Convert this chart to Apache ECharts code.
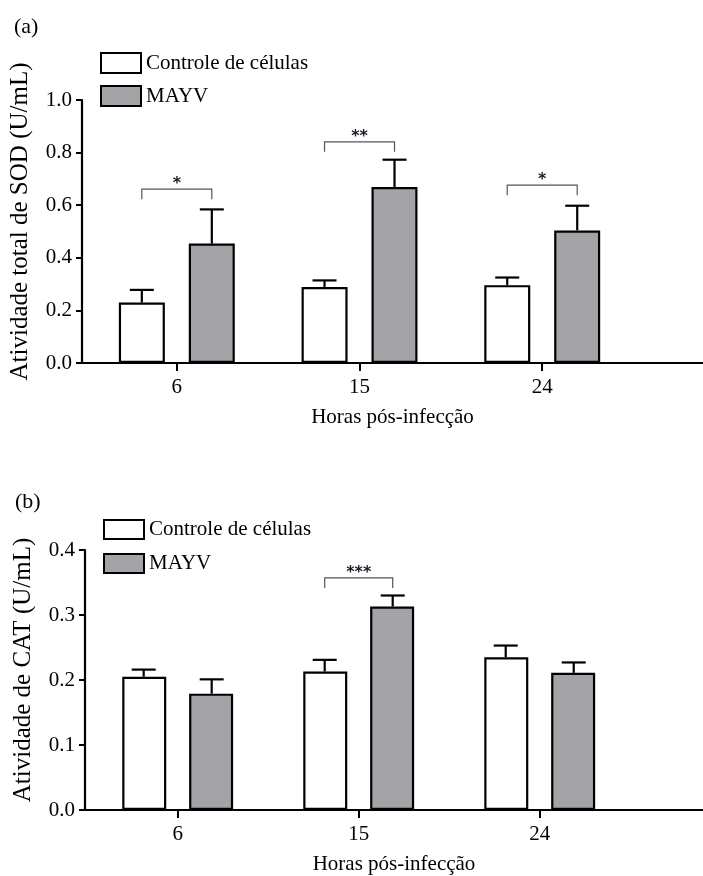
<!DOCTYPE html>
<html>
<head>
<meta charset="utf-8">
<script src="https://cdn.jsdelivr.net/npm/echarts@6/dist/echarts.min.js"></script>
<style>
html,body{margin:0;padding:0;background:#fff;}
#chart{width:703px;height:876px;}
</style>
</head>
<body>
<div id="chart"></div>
<script>
// ---- data ----
var categories = ['6', '15', '24'];
var seriesNames = ['Controle de células', 'MAYV'];

var sodControl    = [0.230, 0.289, 0.296];
var sodControlErr = [0.048, 0.025, 0.029];
var sodMayv       = [0.454, 0.669, 0.504];
var sodMayvErr    = [0.130, 0.104, 0.094];

var catControl    = [0.205, 0.213, 0.235];
var catControlErr = [0.011, 0.018, 0.018];
var catMayv       = [0.179, 0.313, 0.211];
var catMayvErr    = [0.022, 0.017, 0.016];

var sodSigCat   = [0, 1, 2];
var sodSigLevel = [0.661, 0.841, 0.676];
var sodSigLabel = ['*', '**', '*'];

var catSigCat   = [1];
var catSigLevel = [0.357];
var catSigLabel = ['***'];

var sodTicks = [0, 0.2, 0.4, 0.6, 0.8, 1.0];
var catTicks = [0, 0.1, 0.2, 0.3, 0.4];

// ---- styles ----
var SERIF = 'Liberation Serif';
var GRAY = '#a4a3a8';

function pairs(vals, errs) {
  return vals.map(function (v, i) { return errs ? [i, v, errs[i]] : [i, v]; });
}

function errorSeries(name, vals, errs, axisIdx, offset) {
  return {
    type: 'custom', name: name + ' err', xAxisIndex: axisIdx, yAxisIndex: axisIdx,
    encode: { x: 0, y: 1 }, z: 5, silent: true,
    data: pairs(vals, errs),
    renderItem: function (params, api) {
      var i = api.value(0), v = api.value(1), e = api.value(2);
      var b = api.coord([i, v]);
      var t = api.coord([i, v + e]);
      var x = b[0] + offset;
      var st = { stroke: '#000', lineWidth: 2.2 };
      return { type: 'group', children: [
        { type: 'line', shape: { x1: x, y1: b[1], x2: x, y2: t[1] }, style: st },
        { type: 'line', shape: { x1: x - 12, y1: t[1], x2: x + 12, y2: t[1] }, style: st }
      ]};
    }
  };
}

function sigSeries(cats, levels, labels, axisIdx, offset) {
  return {
    type: 'custom', name: 'sig' + axisIdx, xAxisIndex: axisIdx, yAxisIndex: axisIdx,
    encode: { x: 0, y: 1 }, z: 6, silent: true,
    data: cats.map(function (c, k) { return [c, levels[k], k]; }),
    renderItem: function (params, api) {
      var c = api.value(0), lv = api.value(1), k = api.value(2);
      var p = api.coord([c, lv]);
      var x1 = p[0] - offset, x2 = p[0] + offset, y = p[1];
      var st = { stroke: '#555', lineWidth: 1.2, fill: null };
      return { type: 'group', children: [
        { type: 'polyline', shape: { points: [[x1, y + 10], [x1, y], [x2, y], [x2, y + 10]] }, style: st },
        { type: 'text', x: p[0], y: y + 3, style: { text: labels[k], fontFamily: 'DejaVu Sans', fontWeight: 'bold', fontSize: 16, fill: '#1a1a2a', align: 'center', verticalAlign: 'bottom' } }
      ]};
    }
  };
}

function barSeries(name, vals, axisIdx, color, width) {
  return {
    type: 'bar', name: name, xAxisIndex: axisIdx, yAxisIndex: axisIdx,
    data: pairs(vals), barWidth: width, barGap: '52%',
    itemStyle: { color: color, borderColor: '#000', borderWidth: 2.2 },
    emphasis: { disabled: true }
  };
}

function xAxisCfg(gridIdx, min, max) {
  return {
    type: 'value', gridIndex: gridIdx, min: min, max: max,
    name: 'Horas pós-infecção', nameLocation: 'middle', nameGap: 44,
    nameTextStyle: { fontFamily: SERIF, fontSize: 21, color: '#000' },
    axisLine: { show: true, onZero: false, lineStyle: { color: '#000', width: 2.2 } },
    axisTick: { show: true, customValues: [0, 1, 2], length: 8, lineStyle: { color: '#000', width: 2 } },
    axisLabel: { customValues: [0, 1, 2], margin: 14, fontFamily: SERIF, fontSize: 21, color: '#000',
      formatter: function (v) { return categories[Math.round(v)]; } },
    splitLine: { show: false }
  };
}

function yAxisCfg(gridIdx, ticks, name) {
  return {
    type: 'value', gridIndex: gridIdx, min: ticks[0], max: ticks[ticks.length - 1],
    interval: ticks[1] - ticks[0],
    name: name, nameLocation: 'middle', nameGap: 49,
    nameTextStyle: { fontFamily: SERIF, fontSize: 25, color: '#000', padding: [0, 0, 0, 20] },
    axisLine: { show: true, onZero: false, lineStyle: { color: '#000', width: 2.2 } },
    axisTick: { show: true, length: 6, lineStyle: { color: '#000', width: 2 } },
    axisLabel: { margin: 10, fontFamily: SERIF, fontSize: 21, color: '#000',
      formatter: function (v) { return v.toFixed(1); } },
    splitLine: { show: false }
  };
}

var legendText = { fontFamily: SERIF, fontSize: 21, color: '#000', lineHeight: 20 };

var option = {
  animation: false,
  backgroundColor: '#fff',
  grid: [
    { left: 81, top: 100, width: 622, height: 263 },
    { left: 85, top: 550, width: 618, height: 261 }
  ],
  xAxis: [xAxisCfg(0, -0.519, 2.880), xAxisCfg(1, -0.512, 2.902)],
  yAxis: [yAxisCfg(0, sodTicks, 'Atividade total de SOD (U/mL)'), yAxisCfg(1, catTicks, 'Atividade de CAT (U/mL)')],
  legend: [
    { left: 100, top: 52, padding: 0, orient: 'vertical', icon: 'rect', itemWidth: 40, itemHeight: 20, itemGap: 11,
      data: seriesNames, textStyle: legendText, selectedMode: false },
    { left: 103, top: 519, padding: 0, orient: 'vertical', icon: 'rect', itemWidth: 40, itemHeight: 19, itemGap: 13,
      data: seriesNames, textStyle: legendText, selectedMode: false }
  ],
  graphic: [
    { type: 'text', left: 14, top: 16, style: { text: '(a)', fontFamily: SERIF, fontSize: 22, fill: '#000' } },
    { type: 'text', left: 15, top: 491, style: { text: '(b)', fontFamily: SERIF, fontSize: 22, fill: '#000' } }
  ],
  series: [
    barSeries(seriesNames[0], sodControl, 0, '#fff', 46),
    barSeries(seriesNames[1], sodMayv, 0, GRAY, 46),
    errorSeries(seriesNames[0], sodControl, sodControlErr, 0, -35),
    errorSeries(seriesNames[1], sodMayv, sodMayvErr, 0, 35),
    sigSeries(sodSigCat, sodSigLevel, sodSigLabel, 0, 35),
    barSeries(seriesNames[0], catControl, 1, '#fff', 44),
    barSeries(seriesNames[1], catMayv, 1, GRAY, 44),
    errorSeries(seriesNames[0], catControl, catControlErr, 1, -34),
    errorSeries(seriesNames[1], catMayv, catMayvErr, 1, 34),
    sigSeries(catSigCat, catSigLevel, catSigLabel, 1, 34)
  ]
};

var chart = echarts.init(document.getElementById('chart'), null, { renderer: 'canvas' });
chart.setOption(option);
</script>
</body>
</html>
